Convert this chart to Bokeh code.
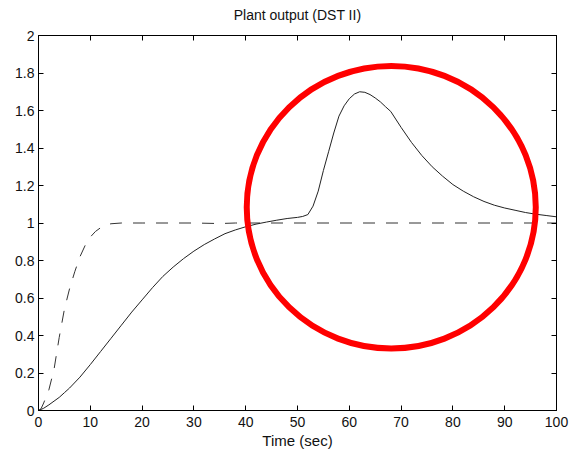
from bokeh.plotting import figure
from bokeh.models import LinearAxis, FixedTicker, PrintfTickFormatter, Range1d
from bokeh.embed import file_html
from bokeh.resources import INLINE

TITLE = "Plant output (DST II)"
X_LABEL = "Time (sec)"

# solid curve (plant output)
T_SOLID = [0, 1, 2, 3, 4, 5, 6, 8, 10, 12, 14, 16, 18, 20, 22, 24, 26, 28, 30, 32, 34, 36, 38, 40,
           42, 44, 46, 48, 50, 51, 52, 53, 54, 55, 56, 57, 58, 59, 60, 61, 62, 63, 64, 65, 66,
           67, 68, 70, 72, 74, 76, 78, 80, 82, 84, 86, 88, 90, 92, 94, 96, 98, 100]
Y_SOLID = [0, 0.012, 0.03, 0.05, 0.07, 0.095, 0.12, 0.178, 0.245, 0.315, 0.385, 0.455, 0.525,
           0.59, 0.655, 0.715, 0.765, 0.81, 0.85, 0.885, 0.915, 0.943, 0.963, 0.98, 0.994, 1.005,
           1.015, 1.024, 1.03, 1.035, 1.045, 1.09, 1.17, 1.28, 1.38, 1.48, 1.57, 1.625, 1.663,
           1.688, 1.70, 1.697, 1.685, 1.667, 1.646, 1.62, 1.595, 1.51, 1.43, 1.36, 1.30, 1.25,
           1.205, 1.17, 1.14, 1.115, 1.095, 1.08, 1.068, 1.056, 1.047, 1.04, 1.033]

# dashed curve (reference model)
T_DASH = [0, 0.5, 1, 2, 3, 4, 5, 6, 7, 8, 9, 10, 11, 12, 13, 14, 16, 20, 30, 35, 38, 40, 100]
Y_DASH = [0, 0.01, 0.04, 0.11, 0.22, 0.39, 0.54, 0.65, 0.74, 0.82, 0.88, 0.925, 0.955, 0.975,
          0.99, 0.996, 1.0, 1.0, 1.0, 0.997, 1.0, 1.0, 1.0]

X_TICKS = [0, 10, 20, 30, 40, 50, 60, 70, 80, 90, 100]
X_TICK_LABELS = ["0", "10", "20", "30", "40", "50", "60", "70", "80", "90", "100"]
Y_TICKS = [0, 0.2, 0.4, 0.6, 0.8, 1, 1.2, 1.4, 1.6, 1.8, 2]
Y_TICK_LABELS = ["0", "0.2", "0.4", "0.6", "0.8", "1", "1.2", "1.4", "1.6", "1.8", "2"]

# red highlight ring (annotation), in data units
RING_CENTER = (68.1, 1.084)
RING_SIZE = (55.8, 1.508)

FONT = "Liberation Sans"

p = figure(width=573, height=453, output_backend="svg", toolbar_location=None,
           x_range=Range1d(0, 100), y_range=Range1d(0, 2),
           frame_width=518, frame_height=375,
           min_border_left=38, min_border_right=17, min_border_top=35, min_border_bottom=43,
           title=TITLE)
p.background_fill_color = "white"
p.border_fill_color = "white"
p.outline_line_color = "black"
p.outline_line_width = 1
p.xgrid.grid_line_color = None
p.ygrid.grid_line_color = None

p.title.align = "center"
p.title.text_font = FONT
p.title.text_font_size = "14px"
p.title.text_font_style = "normal"
p.title.text_color = "#111111"
p.title.standoff = 4


def style_axis(ax, ticks, labels, show_labels=True):
    ax.ticker = FixedTicker(ticks=ticks)
    ax.formatter = PrintfTickFormatter(format="%.3g")
    ax.major_tick_in = 5
    ax.major_tick_out = 0
    ax.minor_tick_line_color = None
    ax.axis_line_color = "black"
    ax.major_tick_line_color = "black"
    if show_labels:
        ax.major_label_overrides = dict(zip(ticks, labels))
        ax.major_label_text_font = FONT
        ax.major_label_text_font_size = "14px"
        ax.major_label_text_color = "#111111"
        ax.major_label_standoff = 5
    else:
        ax.major_label_text_color = None
        ax.major_label_text_font_size = "1px"
        ax.major_label_standoff = 0


style_axis(p.xaxis[0], X_TICKS, X_TICK_LABELS)
style_axis(p.yaxis[0], Y_TICKS, Y_TICK_LABELS)
p.yaxis[0].major_label_standoff = 4
p.xaxis[0].major_label_standoff = 6
p.xaxis[0].axis_label = X_LABEL
p.xaxis[0].axis_label_text_font = FONT
p.xaxis[0].axis_label_text_font_size = "15px"
p.xaxis[0].axis_label_text_font_style = "normal"
p.xaxis[0].axis_label_text_color = "#111111"
p.xaxis[0].axis_label_standoff = 2

top = LinearAxis()
style_axis(top, X_TICKS, X_TICK_LABELS, show_labels=False)
p.add_layout(top, "above")

# invisible spacer between the top ticks and the title
spacer = LinearAxis()
style_axis(spacer, X_TICKS, X_TICK_LABELS, show_labels=False)
spacer.major_tick_in = 0
spacer.major_tick_out = 11
spacer.major_tick_line_color = None
spacer.axis_line_color = None
p.add_layout(spacer, "above")

right = LinearAxis()
style_axis(right, Y_TICKS, Y_TICK_LABELS, show_labels=False)
p.add_layout(right, "right")

p.line(T_DASH, Y_DASH, line_color="#333333", line_width=1, line_dash="12 11")
p.line(T_SOLID, Y_SOLID, line_color="#222222", line_width=1)

p.ellipse(x=[RING_CENTER[0]], y=[RING_CENTER[1]], width=[RING_SIZE[0]], height=[RING_SIZE[1]],
          fill_color=None, line_color="#ff0000", line_width=6)

open("out.html", "w").write(file_html(p, INLINE))
